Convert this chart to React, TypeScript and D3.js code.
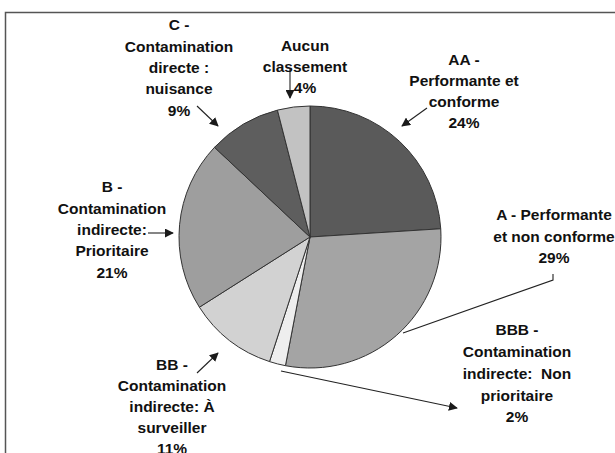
import React from 'react'
import * as d3 from 'd3'

// classement des stations (%)
const categories = [
  'AA - Performante et conforme',
  'A - Performante et non conforme',
  'BBB - Contamination indirecte:  Non prioritaire',
  'BB - Contamination indirecte: À surveiller',
  'B - Contamination indirecte: Prioritaire',
  'C - Contamination directe : nuisance',
  'Aucun classement',
]
const values = [24, 29, 2, 11, 21, 9, 4]
const labelLines = [
  ['AA -', 'Performante et', 'conforme'],
  ['A - Performante', 'et non conforme'],
  ['BBB -', 'Contamination', 'indirecte:  Non', 'prioritaire'],
  ['BB -', 'Contamination', 'indirecte: À', 'surveiller'],
  ['B -', 'Contamination', 'indirecte:', 'Prioritaire'],
  ['C -', 'Contamination', 'directe :', 'nuisance'],
  ['Aucun', 'classement'],
]
const fills = ['#5a5a5a', '#a4a4a4', '#eeeeee', '#d2d2d2', '#9e9e9e', '#5e5e5e', '#c2c2c2']

// label placement (centre x, first line y, line step), and arrow / leader paths
const labelPos: [number, number, number][] = [
  [464, 60, 21], [554, 215, 21.5], [517, 330, 21.7], [172, 365, 21], [112, 187, 21.3], [179, 25, 21.3], [305, 46, 21],
]
const pointers: { pts: [number, number][]; arrow: boolean }[] = [
  { pts: [[427, 108], [402, 126]], arrow: true },
  { pts: [[553, 274], [553, 280], [403, 333]], arrow: false },
  { pts: [[281, 371], [457, 408]], arrow: true },
  { pts: [[197, 373], [218, 353]], arrow: true },
  { pts: [[148, 233], [173, 233]], arrow: true },
  { pts: [[197, 106], [218, 126]], arrow: true },
  { pts: [[290, 69], [290, 98]], arrow: true },
]

const W = 615, H = 453
const cx = 310, cy = 237, R = 131

export default function App() {
  const rows = categories.map((c, i) => ({ name: c, value: values[i], i }))
  const pie = d3.pie<any>().sort(null).value((d) => d.value).startAngle(0).endAngle(2 * Math.PI)
  const arcs = pie(rows)
  const arc = d3.arc<any>().innerRadius(0).outerRadius(R)
  const line = d3.line()

  return (
    <svg width={W} height={H} style={{ position: 'absolute', left: 0, top: 0, background: '#fff' }}
      fontFamily="'Liberation Sans', Arial, sans-serif">
      <defs>
        <marker id="ah" viewBox="0 0 10 10" refX="9" refY="5" markerWidth="9" markerHeight="9"
          markerUnits="userSpaceOnUse" orient="auto">
          <path d="M0,0 L10,5 L0,10 z" fill="#1a1a1a" />
        </marker>
      </defs>
      <rect x={5.5} y={12.5} width={700} height={600} fill="none" stroke="#555" strokeWidth={1.5} />
      <g transform={`translate(${cx},${cy})`}>
        {arcs.map((a, i) => (
          <path key={i} d={arc(a) || ''} fill={fills[i]} stroke="#333" strokeWidth={1} />
        ))}
      </g>
      {pointers.map((p, i) => (
        <path key={i} d={line(p.pts) || ''} fill="none" stroke="#222" strokeWidth={1.1}
          markerEnd={p.arrow ? 'url(#ah)' : undefined} />
      ))}
      {arcs.map((a, i) => {
        const lines = [...labelLines[i], `${values[i]}%`]
        const [lx, ly, step] = labelPos[i]
        return (
          <text key={i} x={lx} y={ly} textAnchor="middle" fontSize={15.5} fontWeight="bold" fill="#111">
            {lines.map((t, j) => (
              <tspan key={j} x={lx} y={ly + j * step} dy="0.35em" style={{ whiteSpace: 'pre' }}>{t}</tspan>
            ))}
          </text>
        )
      })}
    </svg>
  )
}
